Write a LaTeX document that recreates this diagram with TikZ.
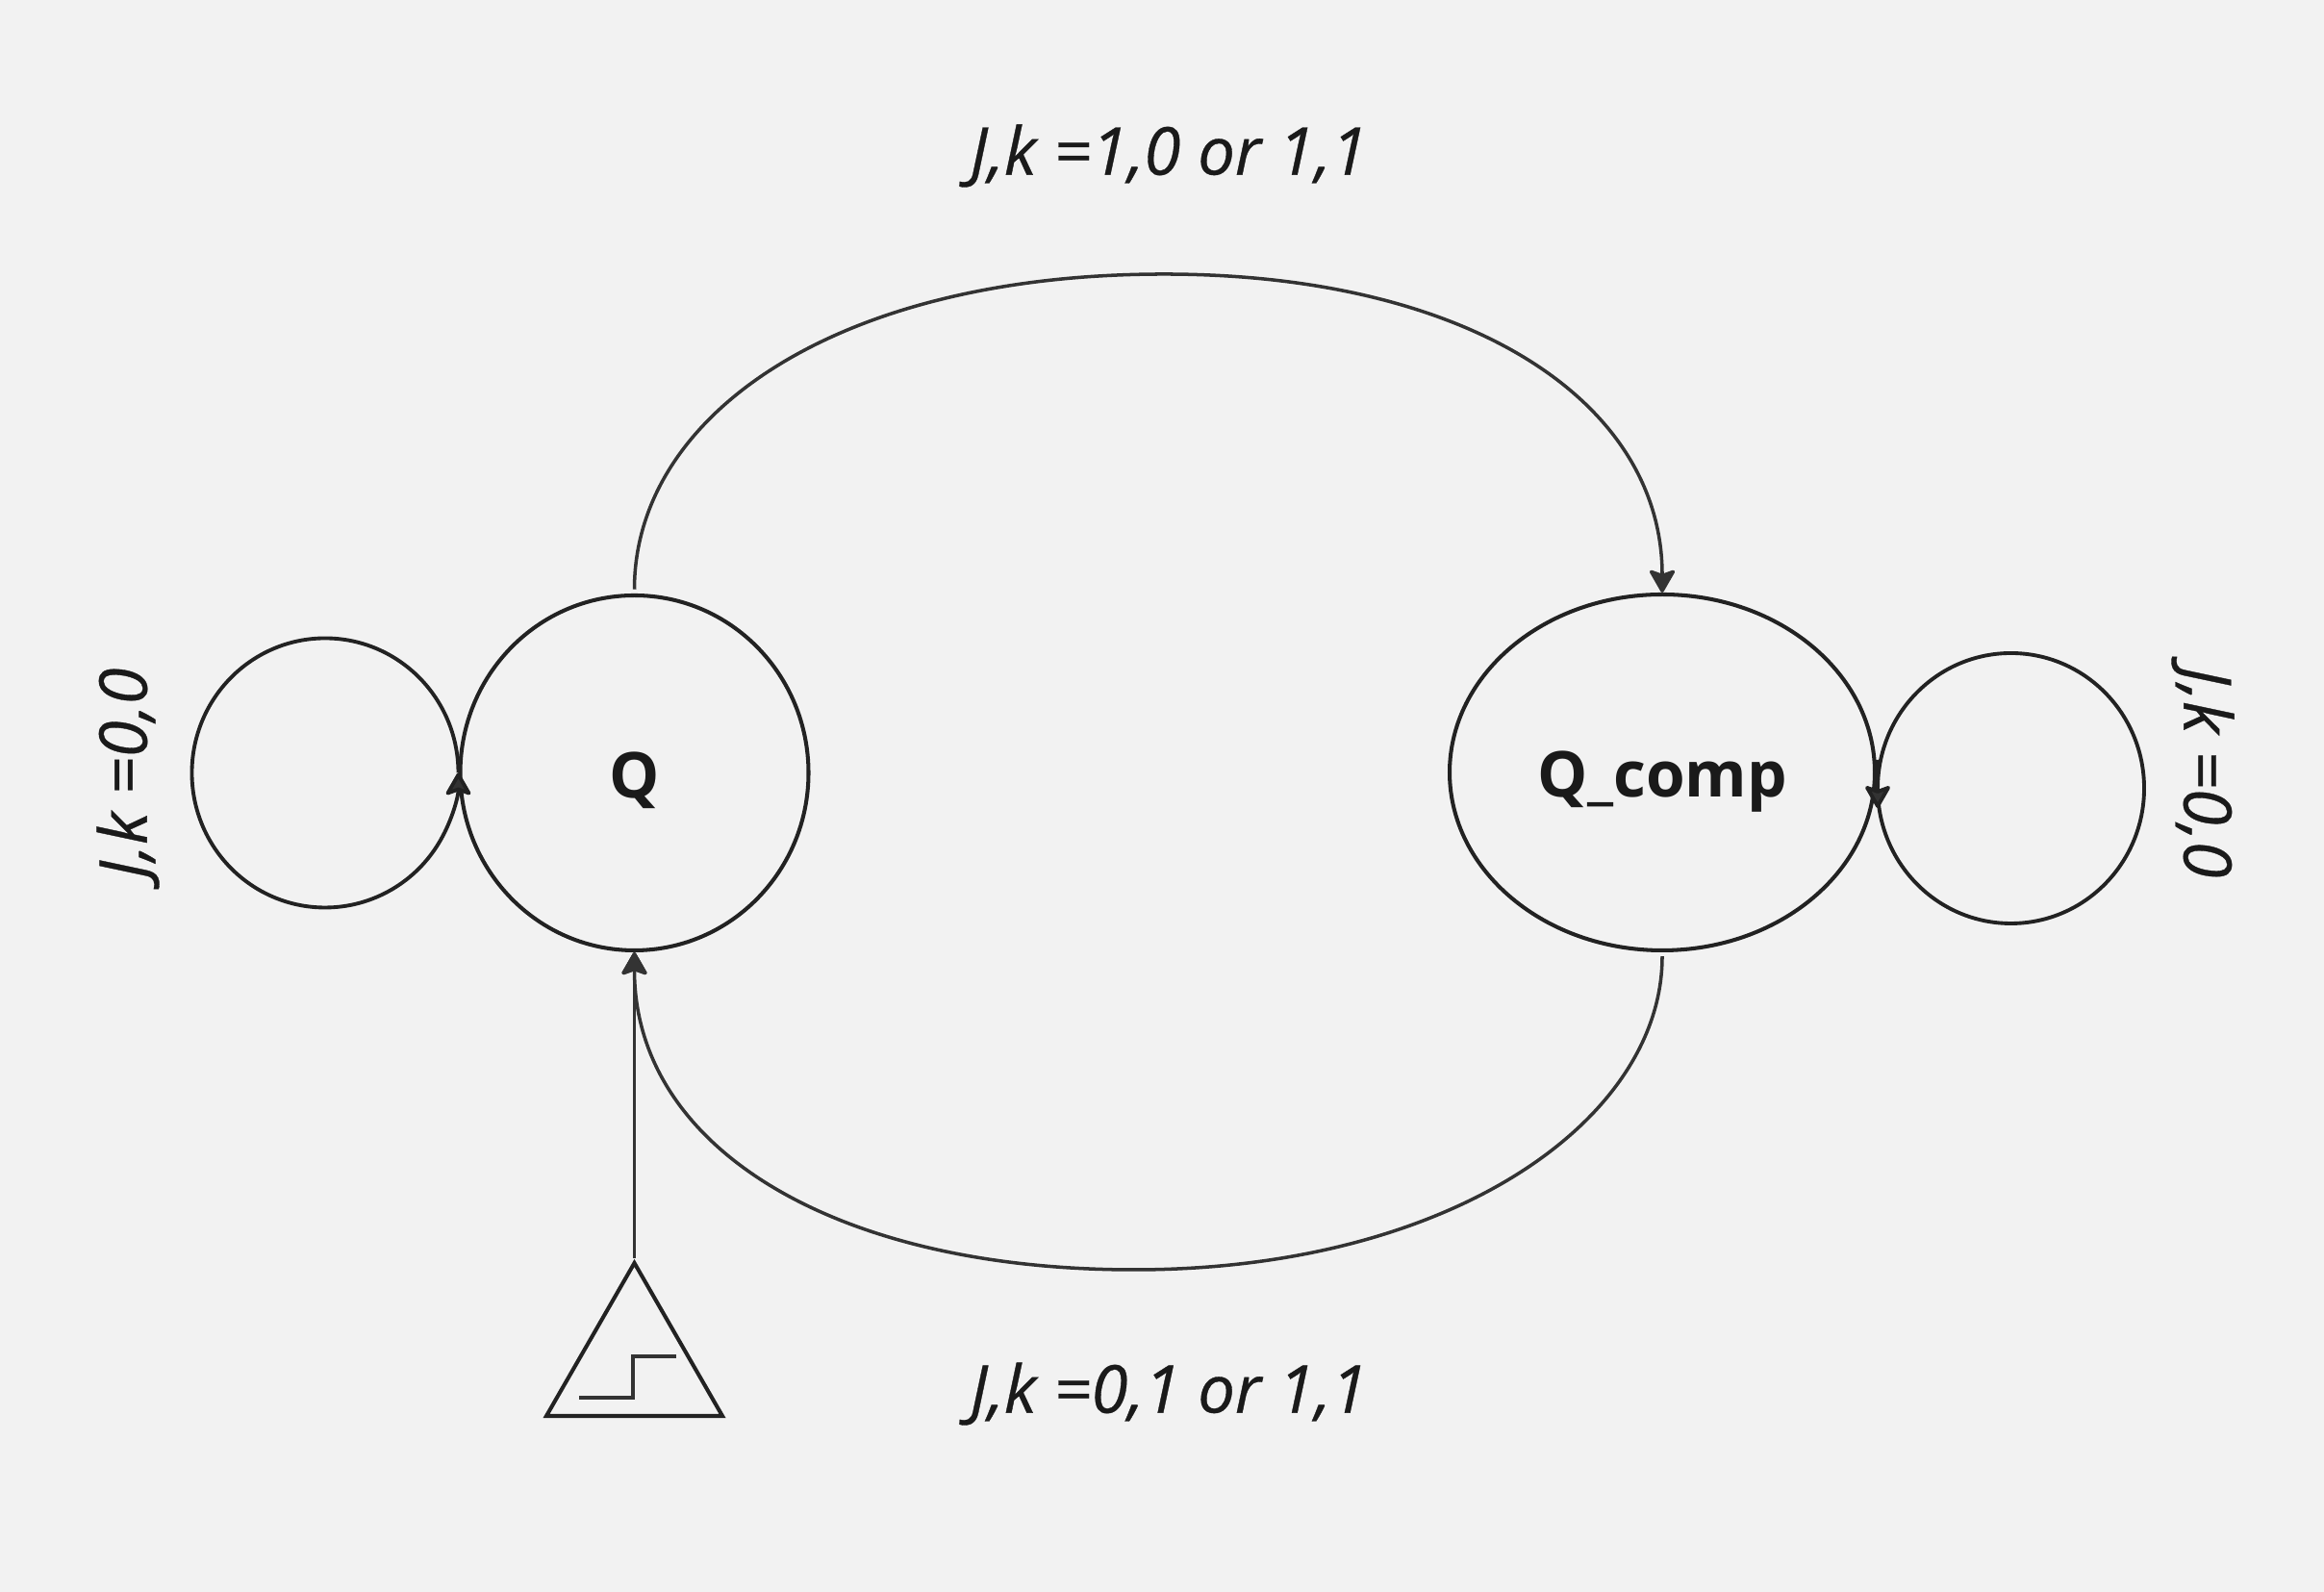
\documentclass[tikz,border=0pt]{standalone}
\usepackage{fontspec}
\setmainfont[ItalicFeatures={FakeBold=0.5}]{Open Sans}
\usetikzlibrary{arrows.meta,shapes.geometric}

\definecolor{pagebg}{HTML}{F2F2F2}
\definecolor{edgeink}{HTML}{333333}
\definecolor{shapeink}{HTML}{222222}
\definecolor{textink}{HTML}{1A1A1A}

\tikzset{
  statenode/.style={draw=shapeink, line width=1.15pt, ellipse, inner sep=0pt, text=textink, text height=0.64cm, text depth=0.12cm, font=\bfseries\fontsize{18.7}{22}\selectfont},
  flow/.style={draw=edgeink, line width=1pt, ->, >={Stealth[length=7.5pt,width=8.5pt,inset=1.5pt,round]}},
  loopline/.style={draw=shapeink, line width=1.1pt, ->, >={Stealth[length=7.5pt,width=8.5pt,inset=1.5pt,round,fill=edgeink]}},
  condlabel/.style={text=textink, inner sep=0pt, font=\itshape\fontsize{19.55}{24}\selectfont}
}

\begin{document}
\begin{tikzpicture}

\fill[pagebg] (0,0) rectangle (24.16,16.55);
\useasboundingbox (0,0) rectangle (24.16,16.55);

\node[statenode, minimum width=3.62cm, minimum height=3.69cm] (Q) at (6.595,8.515) {Q};
\node[statenode, minimum width=4.42cm, minimum height=3.70cm] (Qcomp) at (17.28,8.52) {Q\_comp};

\node[condlabel] (toComp) at (12.15,14.93) {J,k =1,0 or 1,1};
\node[condlabel] (toQ) at (12.15,2.06) {J,k =0,1 or 1,1};
\node[condlabel, rotate=90] (holdQ) at (1.33,8.51) {J,k =0,0};
\node[condlabel, rotate=-90] (holdComp) at (22.90,8.52) {J,k =0,0};

% self loops
\draw[loopline] (Q.west) arc[start angle=0, end angle=330, x radius=1.385, y radius=1.40]
  arc[start angle=330, end angle=360, x radius=1.385, y radius=1.40];
\draw[loopline] (Qcomp.east) ++(0.01,0.13) -- ++(0,-0.295)
  arc[start angle=180, end angle=540, x radius=1.385, y radius=1.405] -- ++(0,-0.205);

% between the two states
\draw[flow, shorten <=1.2pt] (Q.north) .. controls (6.595,12.24) and (8.70,13.70) .. (12.10,13.70)
  .. controls (15.30,13.70) and (17.28,12.36) .. (Qcomp.north);
\draw[flow, shorten <=1.2pt] (Qcomp.south) .. controls (17.28,4.91) and (15.09,3.35) .. (11.79,3.35)
  .. controls (8.67,3.35) and (6.595,4.62) .. (Q.south);

% clock input
\coordinate (clock) at (6.595,3.47);
\draw[flow] (clock) -- (Q.south);
\draw[draw=shapeink, line width=1.15pt] (6.595,3.42) -- (5.68,1.83) -- (7.51,1.83) -- cycle;
\draw[draw=edgeink, line width=1pt] (6.02,2.02) -- (6.58,2.02) -- (6.58,2.45) -- (7.03,2.45);

\end{tikzpicture}
\end{document}
